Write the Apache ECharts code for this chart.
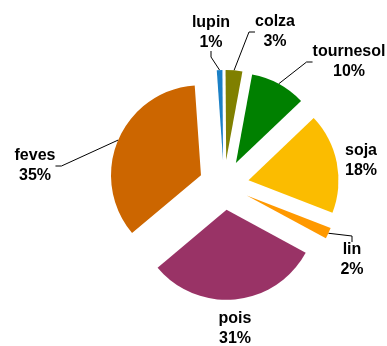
<!DOCTYPE html>
<html>
<head>
<meta charset="utf-8">
<script src="https://cdn.jsdelivr.net/npm/echarts@6/dist/echarts.min.js"></script>
<style>
  html, body { margin: 0; padding: 0; background: #ffffff; }
  #chart { width: 387px; height: 346px; }
</style>
</head>
<body>
<div id="chart"></div>
<script>
// Crop shares (%) drawn clockwise from the top
const crops = ['lupin', 'colza', 'tournesol', 'soja', 'lin', 'pois', 'feves'];
const shares = [1, 3, 10, 18, 2, 31, 35];
const sliceColors = ['#1b80c6', '#808000', '#008000', '#fbbc00', '#ff9900', '#993366', '#cc6600'];

// Label centres (px) and whether a leader line joins label and slice
const labelSpots = [[211, 33], [275, 32], [349, 62], [361, 161], [352, 260], [235, 329], [35, 166]];
const hasLeader = [true, true, true, false, true, false, true];

const PIE_CENTER = [224, 185];
const PIE_RADIUS = 90;
const START_ANGLE = 94;      // echarts degrees (90 = 12 o'clock)
const EXPLODE = 25;          // every slice is pulled out by this many px

const chart = echarts.init(document.getElementById('chart'), null, { renderer: 'canvas' });

const total = shares.reduce((a, b) => a + b, 0);

// One pie per slice: the other slices stay invisible, and the pie centre
// is moved out along the slice's bisector so it sits apart from the rest.
const series = crops.map((crop, k) => {
  const before = shares.slice(0, k).reduce((a, b) => a + b, 0);
  const midDeg = START_ANGLE - (before + shares[k] / 2) / total * 360;
  const midRad = midDeg * Math.PI / 180;
  const center = [
    PIE_CENTER[0] + EXPLODE * Math.cos(midRad),
    PIE_CENTER[1] - EXPLODE * Math.sin(midRad)
  ];
  return {
    type: 'pie',
    silent: true,
    center: center,
    radius: PIE_RADIUS,
    startAngle: START_ANGLE,
    clockwise: true,
    avoidLabelOverlap: false,
    itemStyle: { borderWidth: 0 },
    label: {
      show: false,
      position: 'outside',
      formatter: (p) => '{t|' + p.name + '}\n{t|' + p.value + '%}',
      rich: {
        t: {
          fontFamily: '"Liberation Sans", Arial, sans-serif',
          fontSize: 16,
          fontWeight: 'bold',
          color: '#000000',
          lineHeight: 20,
          align: 'center'
        }
      }
    },
    labelLine: {
      show: false,
      length: 8,
      length2: 6,
      smooth: false,
      lineStyle: { color: '#000000', width: 1 }
    },
    labelLayout: (params) => {
      const spot = labelSpots[params.dataIndex];
      return { x: spot[0], y: spot[1], align: 'center', verticalAlign: 'middle' };
    },
    data: crops.map((name, i) => ({
      name: name,
      value: shares[i],
      itemStyle: { color: i === k ? sliceColors[i] : 'rgba(0,0,0,0)' },
      label: { show: i === k },
      labelLine: { show: i === k && hasLeader[i] }
    }))
  };
});

chart.setOption({
  animation: false,
  backgroundColor: '#ffffff',
  series: series
});
</script>
</body>
</html>
